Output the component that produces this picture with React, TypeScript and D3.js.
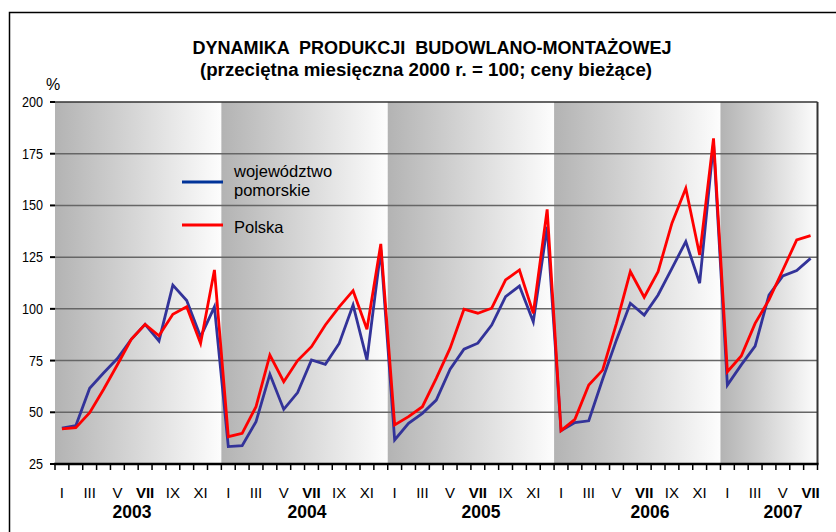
import React from "react";
import * as d3 from "d3";

const years = ["2003", "2004", "2005", "2006", "2007"];
const monthsPerYear = [12, 12, 12, 12, 7];
const romanMonths = ["I", "II", "III", "IV", "V", "VI", "VII", "VIII", "IX", "X", "XI", "XII"];
const yTicks = [25, 50, 75, 100, 125, 150, 175, 200];
const yearLabelX = [132, 307, 481, 650, 783];

const pomorskie = [
  42.3, 43.5, 61.6, 69, 76, 85.3, 92.5, 84.5, 111.5, 104, 86.5, 101,
  33.4, 33.9, 45.5, 68.4, 51.4, 59.5, 75.3, 73.2, 83.3, 101.9, 75.3, 128.5,
  36.6, 44.7, 49.5, 55.9, 70.8, 80.5, 83.4, 92.2, 105.9, 111, 93.8, 139.7,
  41.1, 45, 45.9, 66, 85, 102.7, 97, 106.7, 119.6, 132.5, 112.4, 180,
  63.2, 72.9, 82, 106.7, 115.9, 118.5, 124.4,
];
const polska = [
  42, 42.6, 49.8, 61, 73, 85.3, 92.5, 87, 97.4, 101, 83.3, 118.8,
  38.2, 39.8, 52.7, 77.7, 64.8, 75, 81.7, 92.2, 101, 108.8, 90.1, 131.4,
  43.9, 47.9, 52.7, 66.4, 81, 99.8, 97.9, 100.3, 114, 118.8, 97.9, 148.1,
  41.1, 46.6, 63.2, 70.4, 93, 118, 105.6, 118, 141.4, 158.3, 126, 182.4,
  69.6, 77.2, 93, 104.3, 118.8, 133.3, 135.4,
];

type Cat = { key: string; year: number; month: number };
const cats: Cat[] = [];
years.forEach((y, yi) => {
  for (let m = 0; m < monthsPerYear[yi]; m++) cats.push({ key: `${y}-${m + 1}`, year: yi, month: m });
});

export default function App() {
  const W = 836, H = 532;
  const left = 55, right = 817.5, top = 102, bottom = 464;
  const x = d3.scaleBand<string>().domain(cats.map((c) => c.key)).range([left, right]).paddingInner(0).paddingOuter(0);
  const y = d3.scaleLinear().domain([25, 200]).range([bottom, top]);
  const bw = x.bandwidth();
  const cx = (i: number) => (x(cats[i].key) as number) + bw / 2;

  const line = d3.line<number>().x((_, i) => cx(i)).y((v) => y(v));

  const font = "'Liberation Sans', Arial, sans-serif";

  let idx = 0;
  const bands = years.map((yr, yi) => {
    const start = x(cats[idx].key) as number;
    idx += monthsPerYear[yi];
    const end = idx < cats.length ? (x(cats[idx].key) as number) : right;
    return { yr, start, end };
  });

  const tickXs = cats.map((c) => x(c.key) as number).concat([right]);

  return (
    <svg width={W} height={H} style={{ position: "absolute", left: 0, top: 0, background: "#fff" }} fontFamily={font}>
      <defs>
        <linearGradient id="band" x1="0" x2="1" y1="0" y2="0">
          <stop offset="0" stopColor="#b3b3b3" />
          <stop offset="0.45" stopColor="#d4d4d4" />
          <stop offset="1" stopColor="#fdfdfd" />
        </linearGradient>
      </defs>
      <rect x={0} y={0} width={W} height={H} fill="#fff" />
      <path d={`M9.5,${H + 5} V12.5 H${W + 5}`} fill="none" stroke="#000" strokeWidth={1.5} />

      <text x={432} y={54} textAnchor="middle" fontSize={18} fontWeight="bold" textLength={479} lengthAdjust="spacingAndGlyphs" style={{ whiteSpace: "pre" }}>
        {"DYNAMIKA  PRODUKCJI  BUDOWLANO-MONTAŻOWEJ"}
      </text>
      <text x={426} y={76} textAnchor="middle" fontSize={18} fontWeight="bold" textLength={452} lengthAdjust="spacingAndGlyphs">
        (przeciętna miesięczna 2000 r. = 100; ceny bieżące)
      </text>
      <text x={53} y={90} textAnchor="middle" fontSize={16}>%</text>

      {bands.map((b) => (
        <rect key={b.yr} x={b.start} y={top} width={b.end - b.start} height={bottom - top} fill="url(#band)" />
      ))}

      {yTicks.slice(1).map((t) => (
        <line key={t} x1={left} x2={right} y1={y(t)} y2={y(t)} stroke={t === 200 ? "#333" : "#666"} strokeWidth={1.5} />
      ))}
      <line x1={right} x2={right} y1={top} y2={bottom} stroke="#333" strokeWidth={2} />

      {yTicks.map((t) => (
        <g key={t}>
          <line x1={50} x2={left} y1={y(t)} y2={y(t)} stroke="#000" strokeWidth={2} />
          <text x={43} y={y(t) + 5} textAnchor="end" fontSize={14} textLength={t >= 100 ? 21 : 14} lengthAdjust="spacingAndGlyphs">{t}</text>
        </g>
      ))}

      <line x1={left - 1} x2={right + 1} y1={bottom} y2={bottom} stroke="#000" strokeWidth={2.5} />
      {tickXs.map((tx, i) => (
        <line key={i} x1={tx} x2={tx} y1={bottom} y2={bottom + 6} stroke="#000" strokeWidth={1.5} />
      ))}
      {cats.map((c, i) =>
        c.month % 2 === 0 ? (
          <text key={c.key} x={cx(i)} y={497.5} textAnchor="middle" fontSize={15} fontWeight={c.month === 6 ? "bold" : "normal"}>
            {romanMonths[c.month]}
          </text>
        ) : null
      )}
      {years.map((yr, yi) => (
        <text key={yr} x={yearLabelX[yi]} y={518} textAnchor="middle" fontSize={17.5} fontWeight="bold">{yr}</text>
      ))}

      <path d={line(pomorskie) as string} fill="none" stroke="#333399" strokeWidth={2.8} strokeLinejoin="miter" />
      <path d={line(polska) as string} fill="none" stroke="#ff0000" strokeWidth={2.8} strokeLinejoin="miter" />

      <line x1={182} x2={223} y1={182} y2={182} stroke="#003399" strokeWidth={2.8} />
      <line x1={182} x2={223} y1={225} y2={225} stroke="#ff0000" strokeWidth={2.8} />
      <text x={234} y={177} fontSize={16.5}>województwo</text>
      <text x={234} y={196} fontSize={16.5}>pomorskie</text>
      <text x={234} y={233} fontSize={16.5}>Polska</text>
    </svg>
  );
}
